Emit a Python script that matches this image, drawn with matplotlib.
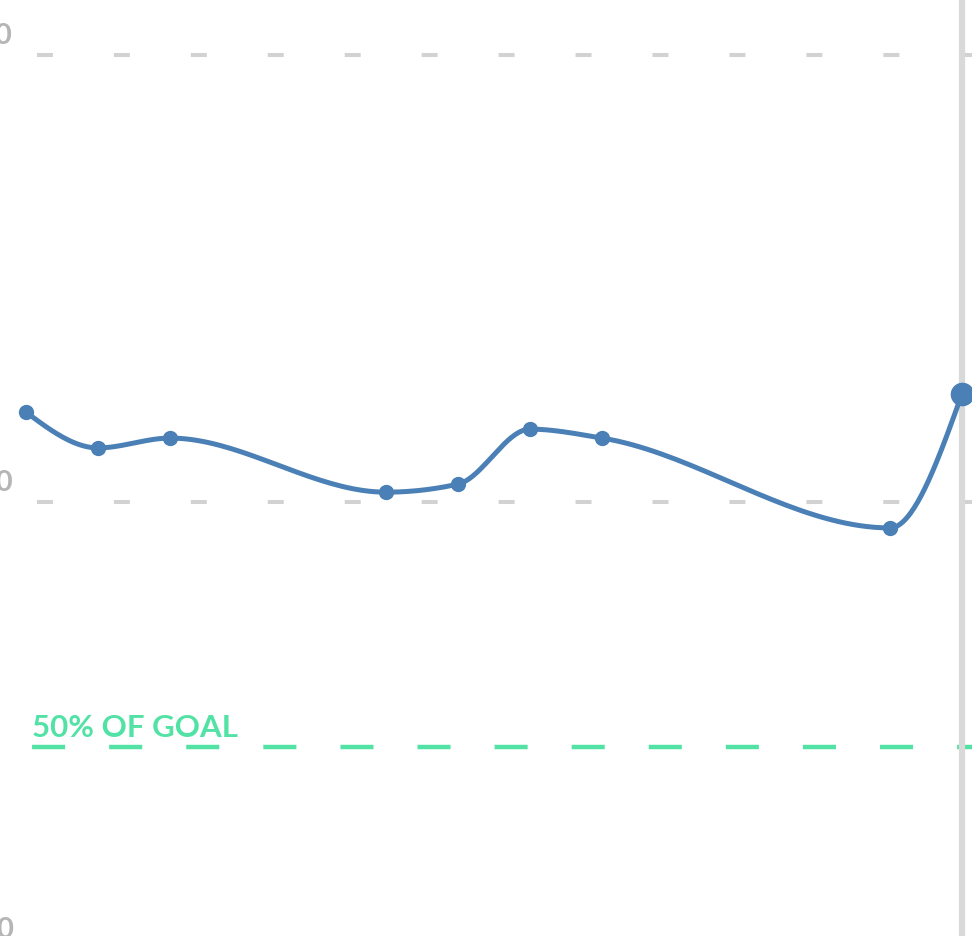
import numpy as np
import matplotlib
matplotlib.use("Agg")
import matplotlib.pyplot as plt

plt.rcParams['lines.scale_dashes'] = False
plt.rcParams['font.family'] = ['Lato', 'DejaVu Sans']

# data (x = day index, y = value)
days = [0, 1, 2, 5, 6, 7, 8, 12, 13]
values = [120.1, 112.1, 114.3, 102.2, 104.0, 116.3, 114.3, 94.2, 124.2]
grid_values = [0, 100, 200]
grid_labels = ['0', '100', '200']
goal_value = 45.2
goal_label = '50% OF GOAL'

BLUE = '#4a80b6'
GREEN = '#52e2a5'
GRAY = '#d2d2d2'
LABEL_GRAY = '#b5b5b5'


def monotone_x(x, y, n=40):
    # same idea as d3.curveMonotoneX
    x = np.asarray(x, float)
    y = np.asarray(y, float)
    h = np.diff(x)
    s = np.diff(y) / h
    t = np.zeros_like(y)
    for i in range(1, len(x) - 1):
        p = (s[i - 1] * h[i] + s[i] * h[i - 1]) / (h[i - 1] + h[i])
        t[i] = (np.sign(s[i - 1]) + np.sign(s[i])) * min(abs(s[i - 1]), abs(s[i]), 0.5 * abs(p))
    t[0] = (3 * s[0] - t[1]) / 2
    t[-1] = (3 * s[-1] - t[-2]) / 2
    xs, ys = [], []
    u = np.linspace(0, 1, n)
    for i in range(len(x) - 1):
        dx = h[i] / 3
        px = [x[i], x[i] + dx, x[i + 1] - dx, x[i + 1]]
        py = [y[i], y[i] + dx * t[i], y[i + 1] - dx * t[i + 1], y[i + 1]]
        b = [(1 - u) ** 3, 3 * u * (1 - u) ** 2, 3 * u ** 2 * (1 - u), u ** 3]
        xs.append(sum(bi * pi for bi, pi in zip(b, px)))
        ys.append(sum(bi * pi for bi, pi in zip(b, py)))
    return np.concatenate(xs), np.concatenate(ys)


fig = plt.figure(figsize=(9.72, 9.37), dpi=100)
ax = fig.add_axes([0, 0, 1, 1])
ax.set_xlim(-26 / 72, 13 + 10 / 72)
ax.set_ylim((950 - 937) / 4.47, 950 / 4.47)
ax.axis('off')

for v, lab in zip(grid_values, grid_labels):
    ax.axhline(v, color=GRAY, lw=2.9, linestyle=(28.8, (11.5, 43.9)),
               dash_capstyle='butt', zorder=1)
    ax.annotate(lab, xy=(0, v), xycoords=('axes fraction', 'data'),
                xytext=(13, 20), textcoords='offset pixels',
                ha='right', va='center', fontsize=21, color=LABEL_GRAY,
                fontweight='bold')

ax.axhline(goal_value, color=GREEN, lw=3.2, linestyle=(32.4, (23.8, 31.7)),
           dash_capstyle='butt', zorder=1)
ax.annotate(goal_label, xy=(0, goal_value), xycoords=('axes fraction', 'data'),
            xytext=(32, 20), textcoords='offset pixels',
            ha='left', va='center', fontsize=22.5, color=GREEN, fontweight='bold')

ax.axvline(days[-1], color='#d9d9d9', lw=4.5, zorder=1)

cx, cy = monotone_x(days, values)
ax.plot(cx, cy, color=BLUE, lw=3.6, solid_capstyle='round', zorder=3)
ax.plot(days[:-1], values[:-1], 'o', color=BLUE, ms=10, zorder=4)
ax.plot(days[-1:], values[-1:], 'o', color=BLUE, ms=16, zorder=4)

fig.savefig('out.png', dpi=100)
